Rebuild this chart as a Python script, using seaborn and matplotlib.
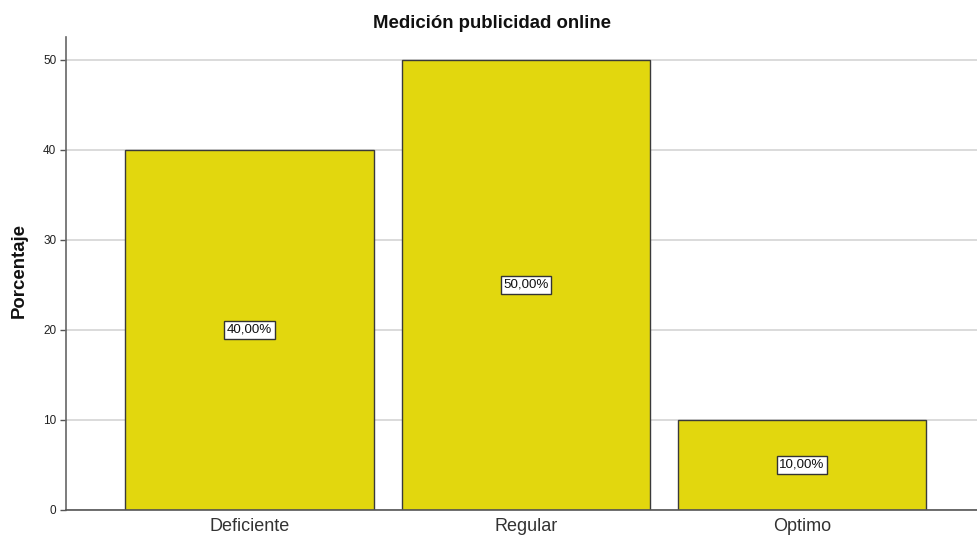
import matplotlib
matplotlib.use("Agg")
import matplotlib.pyplot as plt
import seaborn as sns
import pandas as pd

categorias = ["Deficiente", "Regular", "Optimo"]
porcentajes = [40.0, 50.0, 10.0]
etiquetas = ["40,00%", "50,00%", "10,00%"]
y_ticks = [0, 10, 20, 30, 40, 50]

sns.set_style("white")
plt.rcParams["font.family"] = ["Liberation Sans", "DejaVu Sans"]

df = pd.DataFrame({"categoria": categorias, "porcentaje": porcentajes})

fig = plt.figure(figsize=(9.78, 5.40), dpi=100)
ax = fig.add_axes([66 / 978, 30 / 540, 1 - 66 / 978, (510 - 37) / 540])

ax.set_axisbelow(True)
ax.yaxis.grid(True, color="#d4d4d4", linewidth=1.2)
ax.xaxis.grid(False)

sns.barplot(data=df, x="categoria", y="porcentaje", color="#e2d70e",
            saturation=1, width=0.9, edgecolor="#3a3a3a", linewidth=1.0, ax=ax)

for i, (v, t) in enumerate(zip(porcentajes, etiquetas)):
    ax.text(i, v / 2, t, ha="center", va="center", fontsize=9.6, color="#111111",
            bbox=dict(boxstyle="square,pad=0.2", facecolor="white",
                      edgecolor="#333333", linewidth=1.0))

ax.set_xlim(-0.665, 2.637)
ax.set_ylim(0, 52.55)
ax.set_yticks(y_ticks)
ax.set_yticklabels([str(t) for t in y_ticks], fontsize=8.5, color="#222222")
ax.tick_params(axis="y", length=4, width=1, color="#555555", left=True, pad=3)
ax.tick_params(axis="x", length=0, labelsize=13, labelcolor="#333333", pad=6)

ax.set_xlabel("")
ax.set_ylabel("")
fig.text(19 / 978, 1 - 270 / 540, "Porcentaje", rotation=90, ha="center",
         va="center", fontsize=13.4, fontweight="bold", color="#111111")
fig.text(492 / 978, 1 - 24 / 540, "Medición publicidad online", ha="center",
         va="center", fontsize=13.4, fontweight="bold", color="#111111")

for side in ["top", "right"]:
    ax.spines[side].set_visible(False)
ax.spines["left"].set_color("#666666")
ax.spines["left"].set_linewidth(1.2)
ax.spines["bottom"].set_color("#555555")
ax.spines["bottom"].set_linewidth(1.2)

fig.savefig("out.png", dpi=100, facecolor="white")
